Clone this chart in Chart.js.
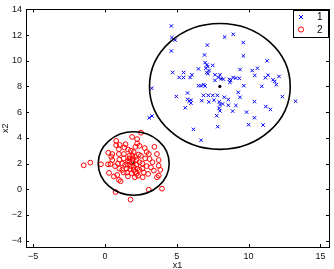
<!DOCTYPE html>
<html>
<head>
<meta charset="utf-8">
<script src="https://cdn.jsdelivr.net/npm/chart.js@4/dist/chart.umd.min.js"></script>
<style>
    html, body { margin: 0; padding: 0; background: #fff; }
</style>
</head>
<body>
<canvas id="scatterChart" width="334" height="269"></canvas>
<script>
// cluster 1 (blue crosses)
const cluster1 = [
    [4.62,12.71],[4.66,11.81],[4.89,11.61],[4.62,10.76],[7.13,11.22],[8.33,11.85],[8.93,12.06],[9.63,11.42],[9.64,10.38],[6.93,10.45],
    [6.97,9.86],[7.09,9.68],[7.16,9.55],[7.02,9.42],[7.25,9.24],[7.50,9.64],[6.51,9.37],[4.71,9.09],[5.47,9.09],[5.47,8.70],
    [5.17,8.70],[6.05,8.91],[5.93,8.70],[7.09,9.09],[7.16,8.99],[7.66,8.91],[8.01,8.91],[7.89,8.70],[8.08,8.60],[7.66,8.47],
    [8.24,8.57],[8.66,8.55],[8.75,8.47],[8.93,8.70],[9.10,8.65],[9.35,8.63],[9.41,9.32],[10.25,9.24],[10.62,9.42],[10.43,8.86],
    [11.29,10.0],[11.36,8.88],[11.17,8.68],[11.70,8.52],[11.82,8.39],[11.93,8.14],[12.12,8.78],[10.92,8.01],[9.67,8.06],[8.70,8.32],
    [12.35,7.21],[13.27,6.85],[3.25,7.86],[3.08,5.56],[3.28,5.70],[4.97,7.22],[5.59,6.34],[5.75,7.0],[5.86,6.85],[6.0,6.93],
    [5.98,6.70],[6.51,8.06],[6.69,8.06],[6.88,8.14],[6.97,8.03],[6.86,7.31],[7.20,7.31],[7.50,7.31],[7.83,7.31],[6.74,6.90],
    [7.23,6.80],[7.59,6.93],[7.96,6.80],[8.01,6.59],[8.19,6.64],[7.78,5.72],[7.85,4.87],[6.16,4.66],[6.69,3.81],[9.28,7.54],
    [9.40,7.16],[8.31,7.16],[8.59,6.98],[8.59,6.54],[9.12,6.52],[8.89,6.08],[10.41,6.82],[11.2,6.44],[11.52,6.21],[9.86,6.0],
    [10.41,5.56],[10.0,5.02],[11.01,5.0],[7.95,6.3],[8.0,6.1],[5.75,7.49]
];

// cluster 2 (red circles)
const cluster2 = [
    [-1.48,1.86],[-1.02,2.07],[-0.28,1.94],[0.21,1.94],[0.44,2.53],[0.51,2.27],[0.39,1.96],[0.28,1.27],[0.62,0.99],[0.85,1.11],
    [0.97,0.73],[1.09,0.62],[0.74,-0.22],[1.78,-0.81],[3.05,-0.04],[3.97,0.04],[2.51,4.40],[1.89,4.07],[0.78,3.76],[1.02,3.45],
    [0.78,3.43],[1.43,3.51],[2.24,3.90],[2.24,3.56],[2.40,3.38],[2.12,3.30],[2.77,3.20],[3.44,3.30],[3.05,2.74],[3.62,2.74],
    [3.74,2.27],[3.85,1.50],[3.74,1.83],[3.62,0.93],[3.74,1.06],[3.0,1.19],[2.63,0.93],[2.08,0.93],[0.23,2.84],[0.51,2.74],
    [0.97,2.74],[1.32,2.74],[1.35,3.25],[0.97,3.12],[1.6,3.1],[2.5,2.6],[2.8,2.4],[3.1,2.35],[2.6,2.0],[2.9,1.8],
    [3.2,1.7],[3.4,1.45],[2.4,1.5],[2.7,1.3],[2.2,1.2],[1.6,1.0],[1.3,1.3],[1.0,1.6],[0.7,1.8],[1.2,2.0],
    [1.0,2.3],[1.3,2.4],[1.6,2.2],[1.7,2.6],[1.9,2.6],[2.1,2.5],[1.7,2.4],[1.95,2.35],[2.2,2.3],[1.6,1.9],
    [1.8,1.8],[2.0,1.75],[2.2,1.9],[2.4,2.1],[1.5,1.6],[1.75,1.55],[2.0,1.5],[2.25,1.6],[1.55,1.3],[1.85,1.25],
    [2.1,1.35],[1.9,2.1],[1.7,2.15],[2.35,2.7],[2.0,2.9],[1.8,3.0],[2.3,1.05],[1.4,1.9],[2.6,1.6],[1.2,1.5],
    [2.9,2.9],[0.9,2.0],[3.3,2.1]
];

const seriesNames = ['1', '2'];
const seriesColors = ['#0000ff', '#ff0000'];
const centroids = [[8, 8], [2, 2]];
const radii = [4.9, 2.47];
const xTicks = [-5, 0, 5, 10, 15];
const yTicks = [-4, -2, 0, 2, 4, 6, 8, 10, 12, 14];

const toXY = (p) => ({ x: p[0], y: p[1] });
const fontFamily = "'Liberation Sans', Arial, sans-serif";
const minus = (v) => String(v).replace('-', '\u2212');

// MATLAB-like box, inward ticks, circles and legend
const matlabPlugin = {
    id: 'matlabStyle',
    afterDatasetsDraw(chart) {
        const ctx = chart.ctx;
        const xs = chart.scales.x, ys = chart.scales.y;
        ctx.save();
        ctx.strokeStyle = '#000';
        ctx.lineWidth = 1.6;
        centroids.forEach((c, i) => {
            const cx = xs.getPixelForValue(c[0]);
            const cy = ys.getPixelForValue(c[1]);
            const rx = Math.abs(xs.getPixelForValue(c[0] + radii[i]) - cx);
            const ry = Math.abs(ys.getPixelForValue(c[1] + radii[i]) - cy);
            ctx.beginPath();
            ctx.ellipse(cx, cy, rx, ry, 0, 0, Math.PI * 2);
            ctx.stroke();
        });
        ctx.restore();
    },
    afterDraw(chart) {
        const ctx = chart.ctx;
        const a = chart.chartArea;
        const xs = chart.scales.x, ys = chart.scales.y;
        ctx.save();
        ctx.strokeStyle = '#000';
        ctx.lineWidth = 1;
        ctx.strokeRect(Math.round(a.left) + 0.5, Math.round(a.top) + 0.5,
            Math.round(a.right - a.left), Math.round(a.bottom - a.top));
        ctx.beginPath();
        xTicks.forEach(v => {
            const px = Math.round(xs.getPixelForValue(v)) + 0.5;
            ctx.moveTo(px, a.bottom); ctx.lineTo(px, a.bottom - 3);
            ctx.moveTo(px, a.top); ctx.lineTo(px, a.top + 3);
        });
        yTicks.forEach(v => {
            const py = Math.round(ys.getPixelForValue(v)) + 0.5;
            ctx.moveTo(a.left, py); ctx.lineTo(a.left + 3, py);
            ctx.moveTo(a.right, py); ctx.lineTo(a.right - 3, py);
        });
        ctx.stroke();

        // legend box
        const lx = 293, ly = 10, lw = 35, lh = 27;
        ctx.fillStyle = '#fff';
        ctx.fillRect(lx, ly, lw, lh);
        ctx.strokeStyle = '#000';
        ctx.lineWidth = 1;
        ctx.strokeRect(lx + 0.5, ly + 0.5, lw, lh);
        ctx.font = '10px ' + fontFamily;
        ctx.textBaseline = 'middle';
        ctx.textAlign = 'left';
        seriesNames.forEach((name, i) => {
            const my = ly + 7 + i * 12.5;
            const mx = lx + 8;
            ctx.strokeStyle = seriesColors[i];
            ctx.beginPath();
            if (i === 0) {
                ctx.moveTo(mx - 2, my - 2); ctx.lineTo(mx + 2, my + 2);
                ctx.moveTo(mx + 2, my - 2); ctx.lineTo(mx - 2, my + 2);
            } else {
                ctx.arc(mx, my, 2.6, 0, Math.PI * 2);
            }
            ctx.stroke();
            ctx.fillStyle = '#000';
            ctx.fillText(name, lx + 24, my + 0.5);
        });
        ctx.restore();
    }
};

new Chart(document.getElementById('scatterChart').getContext('2d'), {
    type: 'scatter',
    data: {
        datasets: [{
            label: seriesNames[0],
            data: cluster1.map(toXY),
            pointStyle: 'crossRot',
            pointRadius: 2.4,
            borderColor: seriesColors[0],
            borderWidth: 1,
            backgroundColor: seriesColors[0]
        }, {
            label: seriesNames[1],
            data: cluster2.map(toXY),
            pointStyle: 'circle',
            pointRadius: 2.4,
            borderColor: seriesColors[1],
            borderWidth: 1,
            backgroundColor: 'rgba(0,0,0,0)'
        }, {
            label: 'centroids',
            data: centroids.map(toXY),
            pointStyle: 'circle',
            pointRadius: 1.6,
            borderWidth: 0,
            backgroundColor: '#000'
        }]
    },
    options: {
        responsive: false,
        animation: false,
        events: [],
        layout: { padding: { left: 0, top: 7, right: 3, bottom: 0 } },
        plugins: {
            legend: { display: false },
            tooltip: { enabled: false }
        },
        scales: {
            x: {
                type: 'linear',
                min: -5.5,
                max: 15.6,
                afterBuildTicks: (scale) => { scale.ticks = xTicks.map(v => ({ value: v })); },
                afterFit: (scale) => { scale.height = 22; },
                grid: { display: false, drawTicks: false },
                border: { display: false },
                ticks: {
                    padding: 4,
                    color: '#111',
                    font: { family: fontFamily, size: 9 },
                    callback: (v) => minus(v)
                },
                title: {
                    display: true,
                    text: 'x1',
                    color: '#111',
                    padding: { top: 0, bottom: -2 },
                    font: { family: fontFamily, size: 9 }
                }
            },
            y: {
                type: 'linear',
                min: -4.5,
                max: 14,
                afterBuildTicks: (scale) => { scale.ticks = yTicks.map(v => ({ value: v })); },
                afterFit: (scale) => { scale.width = 26; },
                grid: { display: false, drawTicks: false },
                border: { display: false },
                ticks: {
                    padding: 4,
                    color: '#111',
                    font: { family: fontFamily, size: 9 },
                    callback: (v) => minus(v)
                },
                title: {
                    display: true,
                    text: 'x2',
                    color: '#111',
                    padding: 0,
                    font: { family: fontFamily, size: 9 }
                }
            }
        }
    },
    plugins: [matlabPlugin]
});
</script>
</body>
</html>
